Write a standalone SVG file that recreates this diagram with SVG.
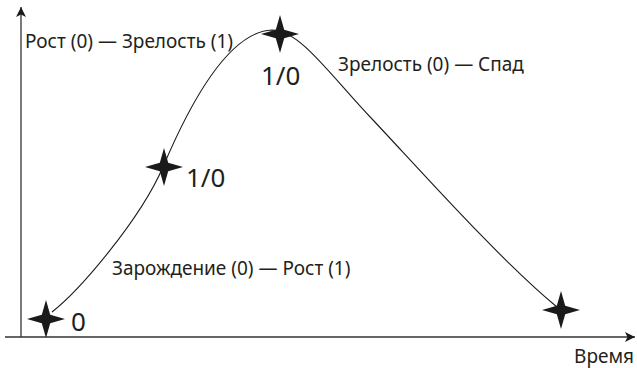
<svg xmlns="http://www.w3.org/2000/svg" width="637" height="368" viewBox="0 0 637 368">
<style>
.ax{stroke:#333;stroke-width:1.3;fill:none}
.cv{stroke:#1a1a1a;stroke-width:1.1;fill:none}
.st{fill:#1a1a1a}
.t{font-family:"Noto Sans","Open Sans",sans-serif;font-size:19px;fill:#231f20}
.n{font-family:"Noto Sans","Open Sans",sans-serif;font-size:26px;fill:#231f20}
</style>
<defs>
<marker id="ar" viewBox="0 0 10 10" refX="10" refY="5" markerWidth="10" markerHeight="10" markerUnits="userSpaceOnUse" orient="auto">
<path d="M0,0 L10,5 L0,10 L2.5,5 Z" fill="#1a1a1a"/>
</marker>
<path id="star" d="M0,-19 L4.2,-4.2 L19,0 L4.2,4.2 L0,19 L-4.2,4.2 L-19,0 L-4.2,-4.2 Z"/>
</defs>
<g id="connectors">
<line class="ax" x1="21" y1="337" x2="21" y2="7" marker-end="url(#ar)"/>
<line class="ax" x1="5" y1="337" x2="635" y2="337" marker-end="url(#ar)"/>
<path class="cv" d="M52,312 C80,290 140,220 163,167 C185,115 225,32 272,30 C300,30 330,75 373,120 C420,170 500,260 557,307"/>
</g>
<g id="p0"><use href="#star" class="st" x="46" y="319"/><text class="n" x="71" y="331">0</text></g>
<g id="p1"><use href="#star" class="st" x="164" y="167"/><text class="n" x="186" y="187">1/0</text></g>
<g id="p2"><use href="#star" class="st" x="280" y="34"/><text class="n" x="261" y="85">1/0</text></g>
<g id="p3"><use href="#star" class="st" x="561" y="310"/></g>
<g id="labels">
<text class="t" x="25" y="48">Рост (0) — Зрелость (1)</text>
<text class="t" x="338" y="71">Зрелость (0) — Спад</text>
<text class="t" x="112" y="275">Зарождение (0) — Рост (1)</text>
<text class="t" x="634" y="363" text-anchor="end">Время</text>
</g>
</svg>
